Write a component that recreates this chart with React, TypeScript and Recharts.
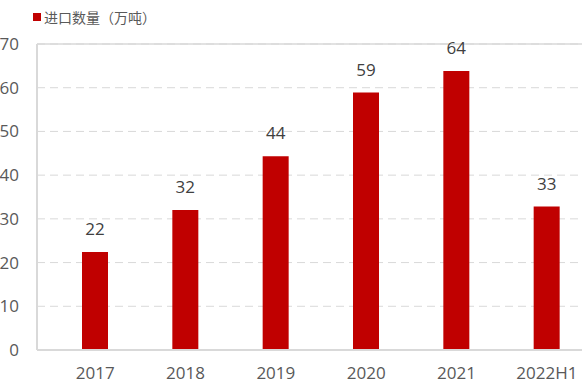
import { BarChart, Bar, XAxis, YAxis, CartesianGrid, LabelList, ReferenceLine } from "recharts";

const years = ["2017", "2018", "2019", "2020", "2021", "2022H1"];
const imports = [22.4, 32, 44.3, 58.9, 63.8, 32.8];
const yTicks = [0, 10, 20, 30, 40, 50, 60, 70];
const seriesName = "进口数量（万吨）";

const data = years.map((year, i) => ({ year, imports: imports[i] }));

const font = "'Open Sans', 'Noto Sans CJK SC', sans-serif";

export default function App() {
  return (
    <div style={{ position: "absolute", left: 0, top: 0, width: 582, height: 384, overflow: "hidden", fontFamily: font }}>
      <div
        style={{
          position: "absolute",
          left: 33,
          top: 7,
          display: "flex",
          alignItems: "center",
          fontSize: 14,
          color: "#595959",
          fontFamily: "'Noto Sans CJK SC', sans-serif",
          zIndex: 1,
        }}
      >
        <span style={{ display: "inline-block", width: 8, height: 8, background: "#c00000", marginRight: 3 }} />
        {seriesName}
      </div>
      <BarChart width={600} height={384} data={data} margin={{ top: 44, right: 8, bottom: 0, left: 0 }}>
        <CartesianGrid vertical={false} stroke="#d9d9d9" strokeDasharray="8 5" />
        <ReferenceLine y={70} stroke="#d9d9d9" strokeWidth={1.5} />
        <XAxis
          dataKey="year"
          height={34}
          padding={{ left: 13, right: 0 }}
          tickLine={false}
          tickMargin={11}
          axisLine={{ stroke: "#d9d9d9", strokeWidth: 2 }}
          tick={{ fontSize: 17, fill: "#595959", fontFamily: font }}
        />
        <YAxis
          width={37}
          domain={[0, 70]}
          ticks={yTicks}
          tickLine={false}
          tickMargin={12}
          axisLine={{ stroke: "#d9d9d9", strokeWidth: 2 }}
          tick={{ fontSize: 17, fill: "#595959", fontFamily: font }}
        />
        <Bar dataKey="imports" name={seriesName} fill="#c00000" barSize={26} isAnimationActive={false}>
          <LabelList
            dataKey="imports"
            position="top"
            offset={17}
            formatter={(v: number) => Math.round(v)}
            style={{ fontSize: 17, fill: "#404040", fontFamily: font }}
          />
        </Bar>
      </BarChart>
    </div>
  );
}
